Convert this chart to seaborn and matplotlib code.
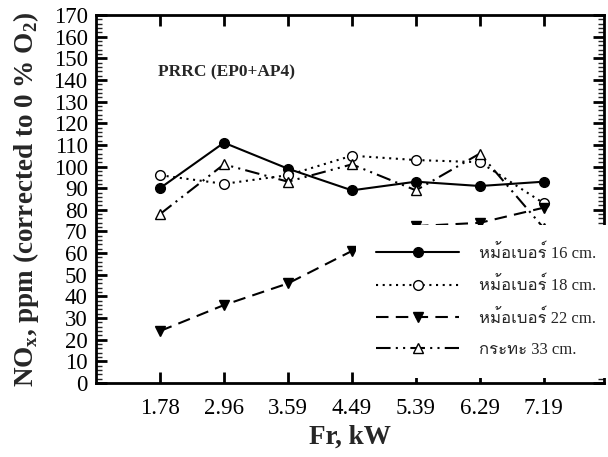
import matplotlib
matplotlib.use("Agg")
import matplotlib.pyplot as plt
import seaborn as sns
import pandas as pd
from matplotlib import font_manager
from matplotlib.ft2font import FT2Font
from matplotlib.ticker import MultipleLocator, FixedLocator
from matplotlib.lines import Line2D

# ---- data ----
fr_labels = ["1.78", "2.96", "3.59", "4.49", "5.39", "6.29", "7.19"]
pot16 = [90, 111, 99, 89, 93, 91, 93]
pot18 = [96, 92, 96, 105, 103, 102, 83]
pot22 = [24, 36, 46, 61, 72.5, 74, 81]
pan33 = [78, 101, 93, 101, 89, 106, 71.5]
series_names = ["หม้อเบอร์ 16 cm.", "หม้อเบอร์ 18 cm.", "หม้อเบอร์ 22 cm.", "กระทะ 33 cm."]
series_values = [pot16, pot18, pot22, pan33]

# ---- fonts ----
sns.set_theme(style="ticks")
thai_font = None
for f in font_manager.fontManager.ttflist:
    try:
        ft = FT2Font(f.fname)
        if ft.get_char_index(0x0E2B) and ft.get_char_index(0x0E21):
            thai_font = f.name
            break
    except Exception:
        pass
families = ["Liberation Serif"] + ([thai_font] if thai_font else []) + ["DejaVu Serif"]
plt.rcParams["font.family"] = families
plt.rcParams["mathtext.fontset"] = "custom"
plt.rcParams["mathtext.rm"] = "Liberation Serif"
plt.rcParams["mathtext.bf"] = "Liberation Serif:bold"

fig = plt.figure(figsize=(6.08, 4.57), dpi=100)
ax = fig.add_axes([96 / 608, 1 - 383 / 457, 508 / 608, 368 / 457])

rows = []
for name, vals in zip(series_names, series_values):
    for i, v in enumerate(vals):
        rows.append({"series": name, "x": i, "y": v})
df = pd.DataFrame(rows)

styles = {
    series_names[0]: dict(marker="o", mfc="black", ls="-"),
    series_names[1]: dict(marker="o", mfc="white", ls=(0, (1, 2.2))),
    series_names[2]: dict(marker="v", mfc="black", ls=(0, (6, 3.5))),
    series_names[3]: dict(marker="^", mfc="white", ls=(0, (7, 2.5, 1, 2.5, 1, 2.5))),
}
handles = []
for name in series_names:
    st = styles[name]
    sub = df[df["series"] == name]
    sns.lineplot(data=sub, x="x", y="y", ax=ax, color="black", linewidth=1.5,
                 marker=st["marker"], markersize=7, markerfacecolor=st["mfc"],
                 markeredgecolor="black", markeredgewidth=1.0, linestyle=st["ls"],
                 legend=False)
    handles.append(Line2D([], [], color="black", linewidth=1.5, linestyle=st["ls"],
                          marker=st["marker"], markersize=7, markerfacecolor=st["mfc"],
                          markeredgecolor="black", markeredgewidth=1.0))

ax.set_xlim(-1, 6.94)
ax.set_ylim(0, 170)
ax.xaxis.set_major_locator(FixedLocator(range(len(fr_labels))))
ax.set_xticklabels(fr_labels)
ax.yaxis.set_major_locator(MultipleLocator(10))
ax.yaxis.set_minor_locator(MultipleLocator(2))

for s in ax.spines.values():
    s.set_linewidth(2.0)
    s.set_color("black")
ax.tick_params(axis="both", which="major", direction="in", length=8, width=2,
               top=True, right=True, labelsize=16.5, colors="black")
ax.tick_params(axis="y", which="minor", direction="in", length=4, width=1,
               left=True, right=True)
ax.tick_params(axis="x", which="major", pad=11)
ax.tick_params(axis="y", which="major", pad=6)
ax.grid(False)

ax.set_xlabel("Fr, kW", fontsize=19.5, fontweight="bold", labelpad=4)
ax.set_ylabel(r"NO$_\mathbf{x}$, ppm (corrected to 0 % O$_\mathbf{2}$)", fontsize=19.5,
              fontweight="bold", labelpad=9)

ax.text(0.122, 0.845, "PRRC (EP0+AP4)", transform=ax.transAxes, fontsize=12.5,
        fontweight="bold", ha="left", va="center")

leg = ax.legend(handles, series_names, loc="upper left", bbox_to_anchor=(0.512, 0.43),
                frameon=True, fancybox=False, framealpha=1, facecolor="white",
                edgecolor="none", fontsize=12, handlelength=5, handletextpad=1.2,
                labelspacing=0.9, borderpad=1.2, borderaxespad=0)
leg.set_zorder(5)

fig.savefig("out.png", dpi=100)
